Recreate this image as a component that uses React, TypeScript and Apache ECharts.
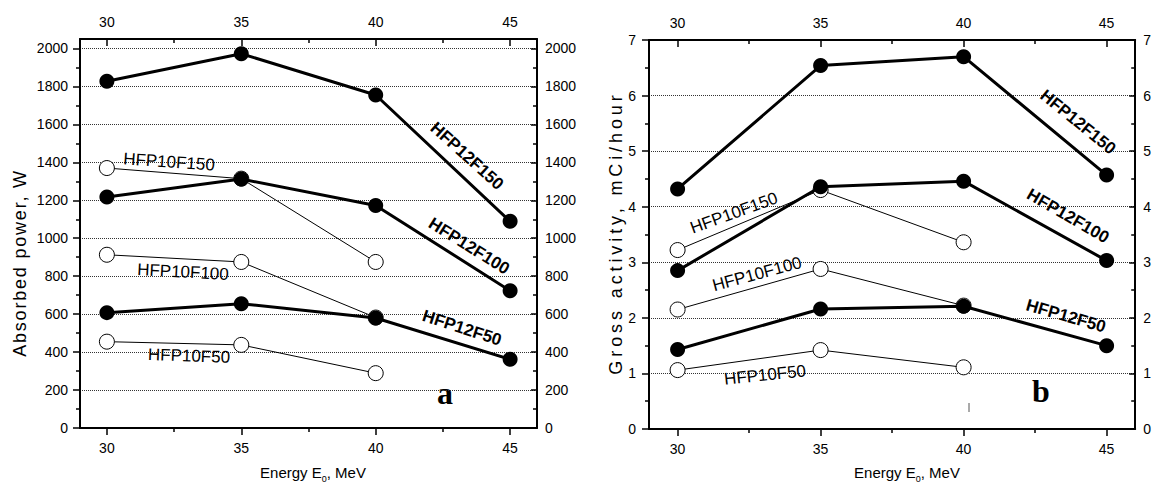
import React, { useEffect, useRef } from "react";
import * as echarts from "echarts";

// ---- data ----
const energies = [30, 35, 40, 45];
const energiesHFP10 = [30, 35, 40];

const powerHFP12F150 = [1827, 1972, 1755, 1089];
const powerHFP12F100 = [1217, 1312, 1173, 723];
const powerHFP12F50 = [608, 655, 580, 362];
const powerHFP10F150 = [1370, 1314, 875];
const powerHFP10F100 = [913, 875, 582];
const powerHFP10F50 = [455, 438, 289];

const activityHFP12F150 = [4.32, 6.54, 6.7, 4.57];
const activityHFP12F100 = [2.85, 4.36, 4.46, 3.03];
const activityHFP12F50 = [1.43, 2.16, 2.21, 1.5];
const activityHFP10F150 = [3.22, 4.3, 3.36];
const activityHFP10F100 = [2.15, 2.88, 2.22];
const activityHFP10F50 = [1.06, 1.42, 1.11];

const xMajorTicks = [30, 35, 40, 45];
const xMinorTicks = [32.5, 37.5, 42.5];
const powerTicks = [0, 200, 400, 600, 800, 1000, 1200, 1400, 1600, 1800, 2000];
const powerMinorTicks = [100, 300, 500, 700, 900, 1100, 1300, 1500, 1700, 1900];
const activityTicks = [0, 1, 2, 3, 4, 5, 6, 7];
const activityMinorTicks = [0.5, 1.5, 2.5, 3.5, 4.5, 5.5, 6.5];

const FONT = '"Liberation Sans", Arial, sans-serif';
const SERIF = '"Liberation Serif", "Times New Roman", serif';

function buildAxes(
  g: number,
  yMax: number,
  yInterval: number,
  yMajor: number[],
  yMinor: number[],
  leftMargin: number,
  rightMargin: number
) {
  const line = { show: true, onZero: false, lineStyle: { color: "#000", width: 2 } };
  const noLine = { show: false, onZero: false };
  const tickStyle = { color: "#000", width: 1.5 };
  const label = (vals: number[], margin: number) => ({
    show: true,
    customValues: vals,
    margin,
    color: "#000",
    fontSize: 14,
    fontFamily: FONT,
    formatter: (v: number) => String(v),
  });
  const noLabel = { show: false };
  const noSplit = { show: false };
  const xBase = { gridIndex: g, type: "value", min: 29, max: 46, splitLine: noSplit, silent: true };
  const yBase = { gridIndex: g, type: "value", min: 0, max: yMax, interval: yInterval, silent: true };
  const xAxes = [
    {
      ...xBase,
      position: "bottom",
      axisLine: line,
      axisTick: { show: true, customValues: xMajorTicks, length: 7, lineStyle: tickStyle },
      axisLabel: label(xMajorTicks, 13),
    },
    {
      ...xBase,
      position: "bottom",
      axisLine: noLine,
      axisTick: { show: true, customValues: xMinorTicks, length: 4, lineStyle: tickStyle },
      axisLabel: noLabel,
    },
    {
      ...xBase,
      position: "top",
      axisLine: line,
      axisTick: { show: true, inside: true, customValues: xMajorTicks, length: 7, lineStyle: tickStyle },
      axisLabel: label(xMajorTicks, 10),
    },
    {
      ...xBase,
      position: "top",
      axisLine: noLine,
      axisTick: { show: true, inside: true, customValues: xMinorTicks, length: 4, lineStyle: tickStyle },
      axisLabel: noLabel,
    },
  ];
  const yAxes = [
    {
      ...yBase,
      position: "left",
      axisLine: line,
      axisTick: { show: true, customValues: yMajor, length: 7, lineStyle: tickStyle },
      axisLabel: label(yMajor, leftMargin),
      splitLine: { show: true, lineStyle: { type: "dotted", color: "#333", width: 1 } },
    },
    {
      ...yBase,
      position: "left",
      axisLine: noLine,
      axisTick: { show: true, customValues: yMinor, length: 4, lineStyle: tickStyle },
      axisLabel: noLabel,
      splitLine: noSplit,
    },
    {
      ...yBase,
      position: "right",
      axisLine: line,
      axisTick: { show: true, inside: true, customValues: yMajor, length: 6, lineStyle: tickStyle },
      axisLabel: label(yMajor, rightMargin),
      splitLine: noSplit,
    },
    {
      ...yBase,
      position: "right",
      axisLine: noLine,
      axisTick: { show: true, inside: true, customValues: yMinor, length: 4, lineStyle: tickStyle },
      axisLabel: noLabel,
      splitLine: noSplit,
    },
  ];
  return { xAxes, yAxes };
}

function filledSeries(name: string, xs: number[], ys: number[], axis: number) {
  return {
    name,
    type: "line",
    xAxisIndex: axis,
    yAxisIndex: axis,
    data: xs.map((x, i) => [x, ys[i]]),
    symbol: "circle",
    symbolSize: 15,
    lineStyle: { color: "#000", width: 3 },
    itemStyle: { color: "#000", borderColor: "#000", borderWidth: 0 },
    z: 4,
    silent: true,
  };
}

function openSeries(name: string, xs: number[], ys: number[], axis: number) {
  return {
    name,
    type: "line",
    xAxisIndex: axis,
    yAxisIndex: axis,
    data: xs.map((x, i) => [x, ys[i]]),
    symbol: "circle",
    symbolSize: 15,
    showAllSymbol: true,
    lineStyle: { color: "#000", width: 1 },
    itemStyle: { color: "#fff", borderColor: "#000", borderWidth: 1 },
    z: 3,
    silent: true,
  };
}

function labelText(text: string, x: number, y: number, deg: number, bold: boolean) {
  return {
    type: "text",
    x,
    y,
    rotation: (deg * Math.PI) / 180,
    silent: true,
    z: 10,
    style: {
      text,
      fill: "#000",
      font: `${bold ? "bold " : ""}17px ${FONT}`,
      align: "center",
      verticalAlign: "middle",
    },
  };
}

function xTitle(x: number, y: number) {
  return {
    type: "text",
    x,
    y,
    silent: true,
    style: {
      text: "{t|Energy E}{s|0}{t|, MeV}",
      align: "center",
      verticalAlign: "middle",
      rich: {
        t: { fontSize: 15, fontFamily: FONT, fill: "#000", lineHeight: 22 },
        s: { fontSize: 9, fontFamily: FONT, fill: "#000", lineHeight: 9, verticalAlign: "bottom" },
      },
    },
  };
}

function yTitle(text: string, x: number, y: number) {
  return {
    type: "text",
    x,
    y,
    rotation: Math.PI / 2,
    silent: true,
    style: {
      text,
      fill: "#000",
      font: `18px ${FONT}`,
      align: "center",
      verticalAlign: "middle",
    },
  };
}

const Y_TITLE_SPACING: Record<string, string> = {
  "Absorbed power, W": "1.8",
  "Gross activity, mCi/hour": "3.9",
};

export default function App() {
  const ref = useRef<HTMLDivElement>(null);

  useEffect(() => {
    document.body.style.margin = "0";
    if (!ref.current) return;
    const chart = echarts.init(ref.current, undefined, { renderer: "svg" });

    const a = buildAxes(0, 2050, 200, powerTicks, powerMinorTicks, 12, 8);
    const b = buildAxes(1, 7, 1, activityTicks, activityMinorTicks, 13, 8);

    const option: any = {
      animation: false,
      backgroundColor: "#fff",
      grid: [
        { left: 80, top: 39, width: 457, height: 389 },
        { left: 649, top: 40, width: 494, height: 389 },
      ],
      xAxis: [...a.xAxes, ...b.xAxes],
      yAxis: [...a.yAxes, ...b.yAxes],
      series: [
        openSeries("HFP10F150", energiesHFP10, powerHFP10F150, 0),
        openSeries("HFP10F100", energiesHFP10, powerHFP10F100, 0),
        openSeries("HFP10F50", energiesHFP10, powerHFP10F50, 0),
        filledSeries("HFP12F150", energies, powerHFP12F150, 0),
        filledSeries("HFP12F100", energies, powerHFP12F100, 0),
        filledSeries("HFP12F50", energies, powerHFP12F50, 0),
        openSeries("HFP10F150", energiesHFP10, activityHFP10F150, 4),
        openSeries("HFP10F100", energiesHFP10, activityHFP10F100, 4),
        openSeries("HFP10F50", energiesHFP10, activityHFP10F50, 4),
        filledSeries("HFP12F150", energies, activityHFP12F150, 4),
        filledSeries("HFP12F100", energies, activityHFP12F100, 4),
        filledSeries("HFP12F50", energies, activityHFP12F50, 4),
      ],
      graphic: [
        // left panel annotations
        labelText("HFP10F150", 169, 162, -4, false),
        labelText("HFP10F100", 183, 272, -3, false),
        labelText("HFP10F50", 189, 356, -2, false),
        labelText("HFP12F150", 467, 156, -42, true),
        labelText("HFP12F100", 469, 246, -32, true),
        labelText("HFP12F50", 462, 328, -18, true),
        {
          type: "text",
          x: 445,
          y: 393,
          silent: true,
          style: { text: "a", fill: "#000", font: `bold 32px ${SERIF}`, align: "center", verticalAlign: "middle" },
        },
        // right panel annotations
        labelText("HFP10F150", 734, 213, 20, false),
        labelText("HFP10F100", 757, 274, 15, false),
        labelText("HFP10F50", 765, 375, 6, false),
        labelText("HFP12F150", 1078, 122, -39, true),
        labelText("HFP12F100", 1068, 216, -30, true),
        labelText("HFP12F50", 1066, 316, -16, true),
        {
          type: "text",
          x: 1041,
          y: 391,
          silent: true,
          style: { text: "b", fill: "#000", font: `bold 32px ${SERIF}`, align: "center", verticalAlign: "middle" },
        },
        {
          type: "line",
          silent: true,
          shape: { x1: 969, y1: 403, x2: 969, y2: 412 },
          style: { stroke: "#555", lineWidth: 1 },
        },
        // axis titles
        xTitle(313, 472),
        xTitle(907, 472),
        yTitle("Absorbed power, W", 20, 263),
        yTitle("Gross activity, mCi/hour", 616, 233),
      ],
    };

    chart.setOption(option);

    const applySpacing = () => {
      const root = ref.current;
      if (!root) return;
      root.querySelectorAll("text").forEach((t) => {
        const s = Y_TITLE_SPACING[(t.textContent || "").trim()];
        if (s) t.setAttribute("letter-spacing", s);
      });
    };
    applySpacing();
    chart.on("finished", applySpacing);

    return () => {
      chart.dispose();
    };
  }, []);

  return <div ref={ref} style={{ width: 1154, height: 490 }} />;
}
